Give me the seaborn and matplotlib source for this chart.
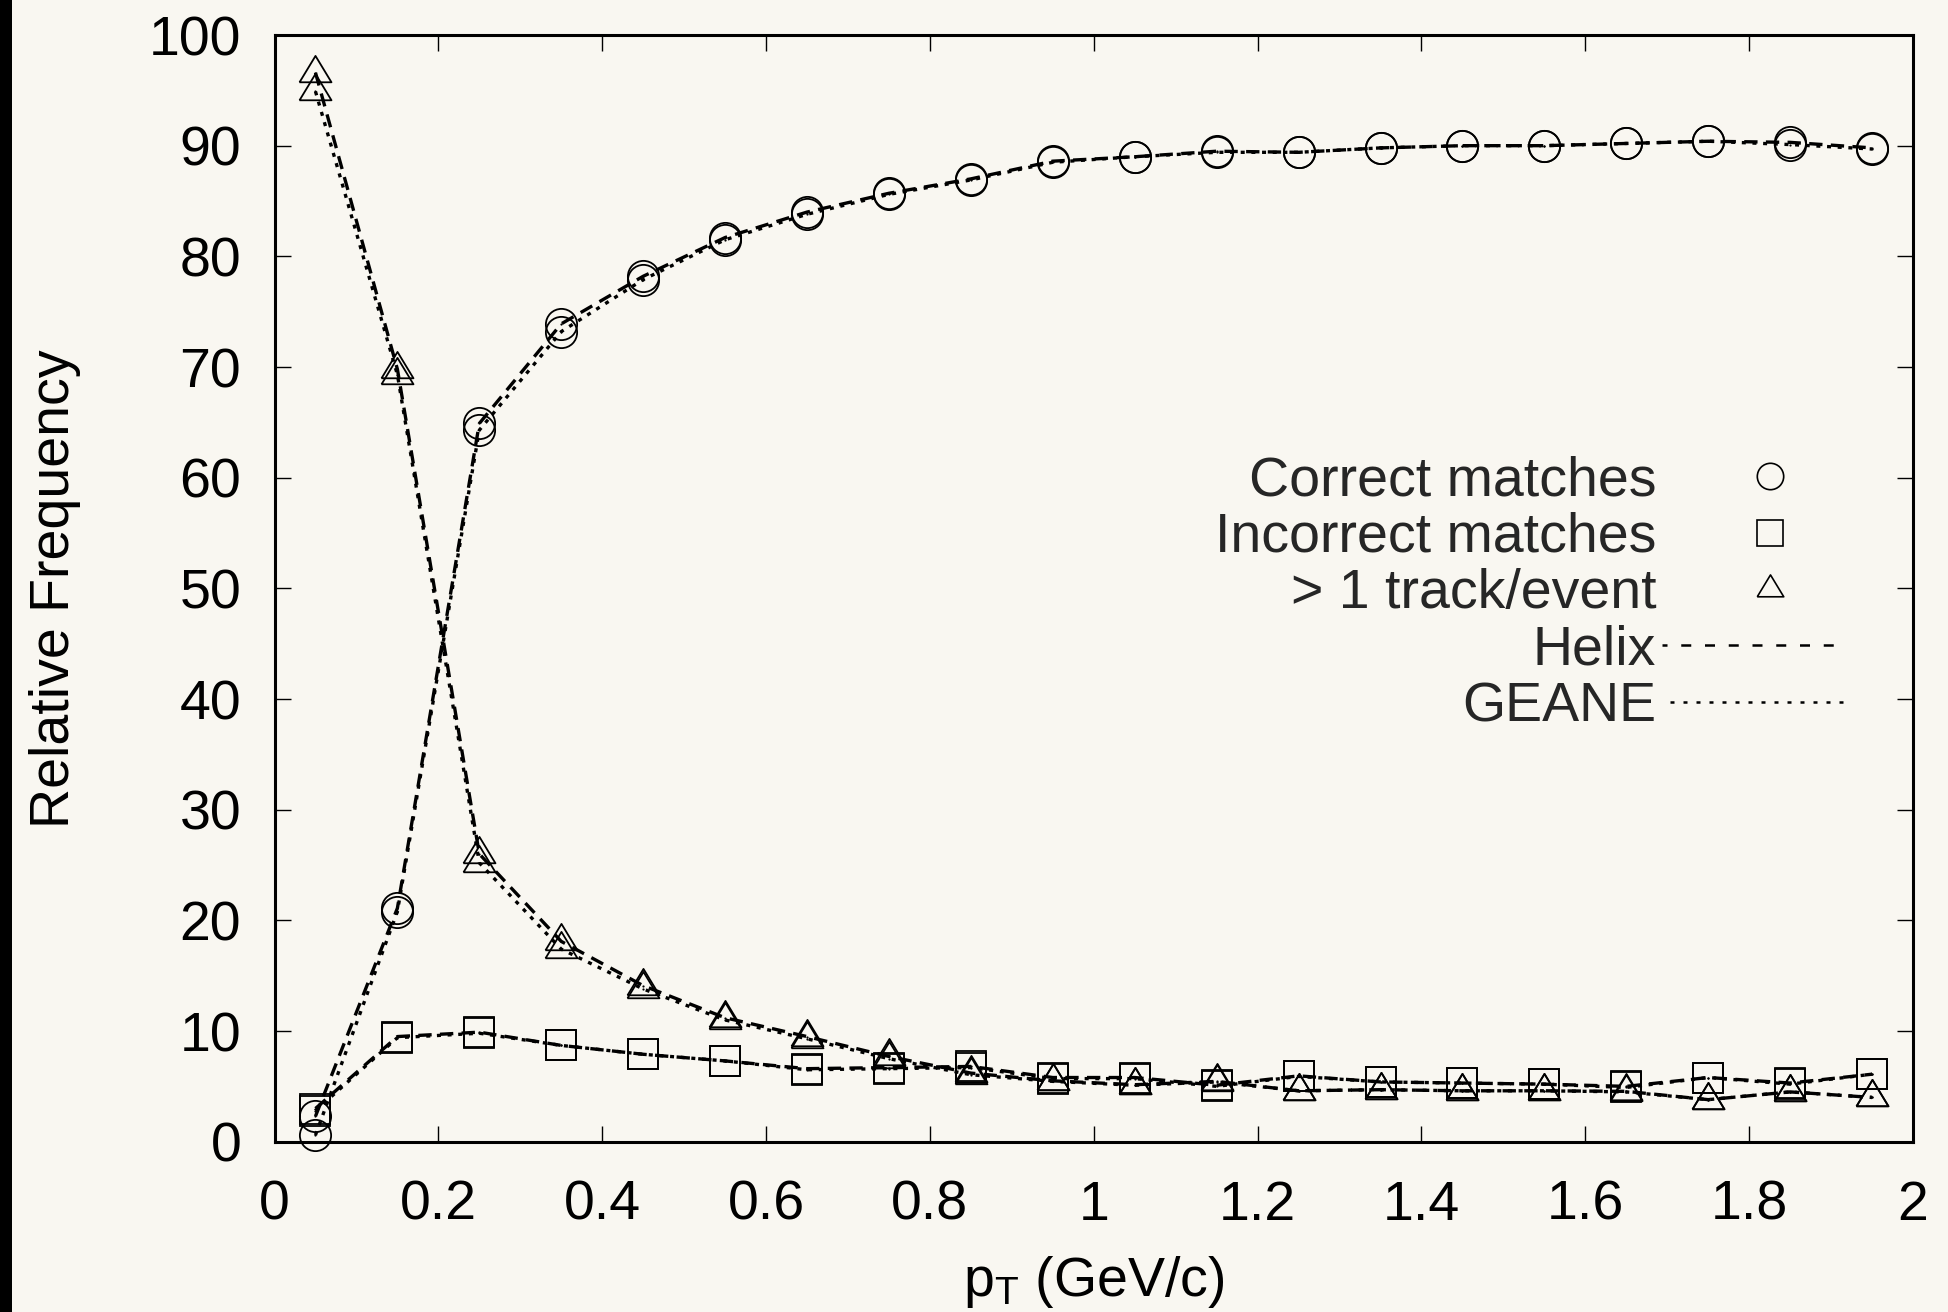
import numpy as np
import pandas as pd
import seaborn as sns
import matplotlib
matplotlib.use("Agg")
import matplotlib.pyplot as plt
from matplotlib.lines import Line2D
from matplotlib.patches import Rectangle
from matplotlib.legend_handler import HandlerLine2D

# ---------------- data ----------------
pt = [0.05, 0.15, 0.25, 0.35, 0.45, 0.55, 0.65, 0.75, 0.85, 0.95,
      1.05, 1.15, 1.25, 1.35, 1.45, 1.55, 1.65, 1.75, 1.85, 1.95]

correct_helix = [2.3, 21.1, 64.9, 73.9, 78.2, 81.7, 84.0, 85.7, 87.0, 88.6,
                 89.0, 89.5, 89.4, 89.8, 90.0, 90.0, 90.2, 90.4, 90.3, 89.8]
correct_geane = [0.6, 20.8, 64.3, 73.2, 77.9, 81.5, 83.8, 85.6, 86.9, 88.5,
                 89.0, 89.4, 89.4, 89.8, 90.0, 90.0, 90.2, 90.4, 90.1, 89.7]

incorrect_helix = [3.0, 9.5, 9.9, 8.7, 7.9, 7.3, 6.6, 6.7, 6.8, 5.8,
                   5.8, 5.1, 5.95, 5.4, 5.3, 5.2, 5.0, 5.8, 5.3, 6.1]
incorrect_geane = [2.8, 9.4, 9.8, 8.7, 7.9, 7.3, 6.5, 6.6, 6.7, 5.7,
                   5.7, 5.0, 5.9, 5.4, 5.3, 5.2, 4.9, 5.8, 5.2, 6.1]

multi_helix = [96.6, 69.8, 26.0, 18.1, 14.1, 11.2, 9.5, 7.7, 6.2, 5.5,
               5.15, 5.45, 4.6, 4.7, 4.6, 4.6, 4.55, 3.8, 4.5, 4.0]
multi_geane = [94.9, 69.3, 25.2, 17.4, 13.8, 11.0, 9.3, 7.5, 6.05, 5.45,
               5.1, 5.4, 4.6, 4.7, 4.6, 4.6, 4.5, 3.8, 4.5, 4.0]

categories = ["Correct matches", "Incorrect matches", "> 1 track/event"]
methods = ["Helix", "GEANE"]
x_ticks = [0, 0.2, 0.4, 0.6, 0.8, 1.0, 1.2, 1.4, 1.6, 1.8, 2.0]
x_tick_labels = ["0", "0.2", "0.4", "0.6", "0.8", "1", "1.2", "1.4", "1.6", "1.8", "2"]
y_ticks = [0, 10, 20, 30, 40, 50, 60, 70, 80, 90, 100]

series = {
    ("Correct matches", "Helix"): correct_helix,
    ("Correct matches", "GEANE"): correct_geane,
    ("Incorrect matches", "Helix"): incorrect_helix,
    ("Incorrect matches", "GEANE"): incorrect_geane,
    ("> 1 track/event", "Helix"): multi_helix,
    ("> 1 track/event", "GEANE"): multi_geane,
}
rows = []
for (cat, meth), vals in series.items():
    for x, v in zip(pt, vals):
        rows.append({"pt": x, "value": v, "category": cat, "method": meth})
df = pd.DataFrame(rows)

# ---------------- style ----------------
BG = "#f9f7f1"
sns.set_theme(style="ticks")
plt.rcParams["font.family"] = ["Liberation Sans", "DejaVu Sans"]
plt.rcParams["mathtext.fontset"] = "custom"
plt.rcParams["mathtext.rm"] = "Liberation Sans"
plt.rcParams["mathtext.it"] = "Liberation Sans:italic"
plt.rcParams["mathtext.bf"] = "Liberation Sans:bold"

FS = 40
LW = 2.4
tri = [(-1.0, -0.55), (1.0, -0.55), (0.0, 1.1), (-1.0, -0.55)]
marker_of = {"Correct matches": "o", "Incorrect matches": "s", "> 1 track/event": tri}
msize_of = {"Correct matches": 22.5, "Incorrect matches": 22.0, "> 1 track/event": 25.3}
ls_of = {"Helix": (0, (4.0, 2.5)), "GEANE": (0, (1.2, 2.0))}

fig = plt.figure(figsize=(19.48, 13.12), dpi=100, facecolor=BG)
ax = fig.add_axes([0.14092, 0.1298, 0.84112, 0.84352])
ax.set_facecolor(BG)

# lines
for cat in categories:
    for meth in methods:
        sub = df[(df.category == cat) & (df.method == meth)]
        sns.lineplot(data=sub, x="pt", y="value", ax=ax, color="black",
                     linestyle=ls_of[meth], linewidth=LW, estimator=None,
                     sort=False, legend=False)

# markers
for cat in categories:
    for meth in methods:
        sub = df[(df.category == cat) & (df.method == meth)]
        sns.lineplot(data=sub, x="pt", y="value", ax=ax, color="black",
                     linestyle="none", marker=marker_of[cat],
                     markersize=msize_of[cat], markerfacecolor="none",
                     markeredgecolor="black", markeredgewidth=1.3,
                     estimator=None, sort=False, legend=False, clip_on=False)
        sns.lineplot(data=sub, x="pt", y="value", ax=ax, color="black",
                     linestyle="none", marker="o", markersize=1.6,
                     markerfacecolor="black", markeredgecolor="black",
                     markeredgewidth=0, estimator=None, sort=False,
                     legend=False, clip_on=False)

# axes
ax.set_xlim(0, 2)
ax.set_ylim(0, 100)
ax.set_xticks(x_ticks)
ax.set_xticklabels(x_tick_labels)
ax.set_yticks(y_ticks)
ax.tick_params(axis="both", which="major", direction="in", length=11.5,
               width=1.0, color="black", labelsize=FS, top=True, right=True,
               labelcolor="black")
ax.tick_params(axis="x", pad=27.5)
ax.tick_params(axis="y", pad=24)
for s in ax.spines.values():
    s.set_visible(True)
    s.set_linewidth(2.2)
    s.set_color("black")

ax.set_xlabel(r"p$_{\mathrm{T}}$ (GeV/c)", fontsize=FS, color="black")
ax.xaxis.set_label_coords(0.5, -0.1015)
ax.set_ylabel("Relative Frequency", fontsize=FS, color="black")
ax.yaxis.set_label_coords(-0.118, 0.5)


class ShiftedMarkerHandler(HandlerLine2D):
    """Legend handler that draws the marker right of the handle centre."""
    def __init__(self, shift=0.0, **kw):
        super().__init__(**kw)
        self.shift = shift

    def create_artists(self, legend, orig_handle, xdescent, ydescent,
                       width, height, fontsize, trans):
        arts = super().create_artists(legend, orig_handle, xdescent, ydescent,
                                      width, height, fontsize, trans)
        for a in arts:
            xd = np.asarray(a.get_xdata(), dtype=float)
            a.set_xdata(xd + self.shift)
        return arts


# legend
handles = [
    Line2D([], [], linestyle="none", marker="o", markersize=19, mfc="none", mec="black", mew=1.2),
    Line2D([], [], linestyle="none", marker="s", markersize=19, mfc="none", mec="black", mew=1.2),
    Line2D([], [], linestyle="none", marker=tri, markersize=21, mfc="none", mec="black", mew=1.2),
    Line2D([], [], color="black", linestyle=(2, (4.0, 5.5)), linewidth=1.8),
    Line2D([], [], color="black", linestyle=(2, (1.6, 3.6)), linewidth=1.8),
]
labels = categories + methods
hm = {h: ShiftedMarkerHandler(shift=12.0) for h in handles[:3]}
leg = ax.legend(handles, labels, loc="upper right", bbox_to_anchor=(0.9585, 0.620),
                frameon=False, fontsize=FS, markerfirst=False, handlelength=3.3,
                handletextpad=0.1, labelspacing=0.08, borderpad=0, borderaxespad=0,
                handler_map=hm)
try:
    vp = leg._legend_handle_box.get_children()[0]
    vp.align = "right"
except Exception:
    pass

# dark strip at the left edge of the scan
fig.patches.append(Rectangle((0, 0), 12 / 1948, 1, transform=fig.transFigure,
                             facecolor="black", edgecolor="none", zorder=10))

fig.savefig("out.png", dpi=100, facecolor=BG)
